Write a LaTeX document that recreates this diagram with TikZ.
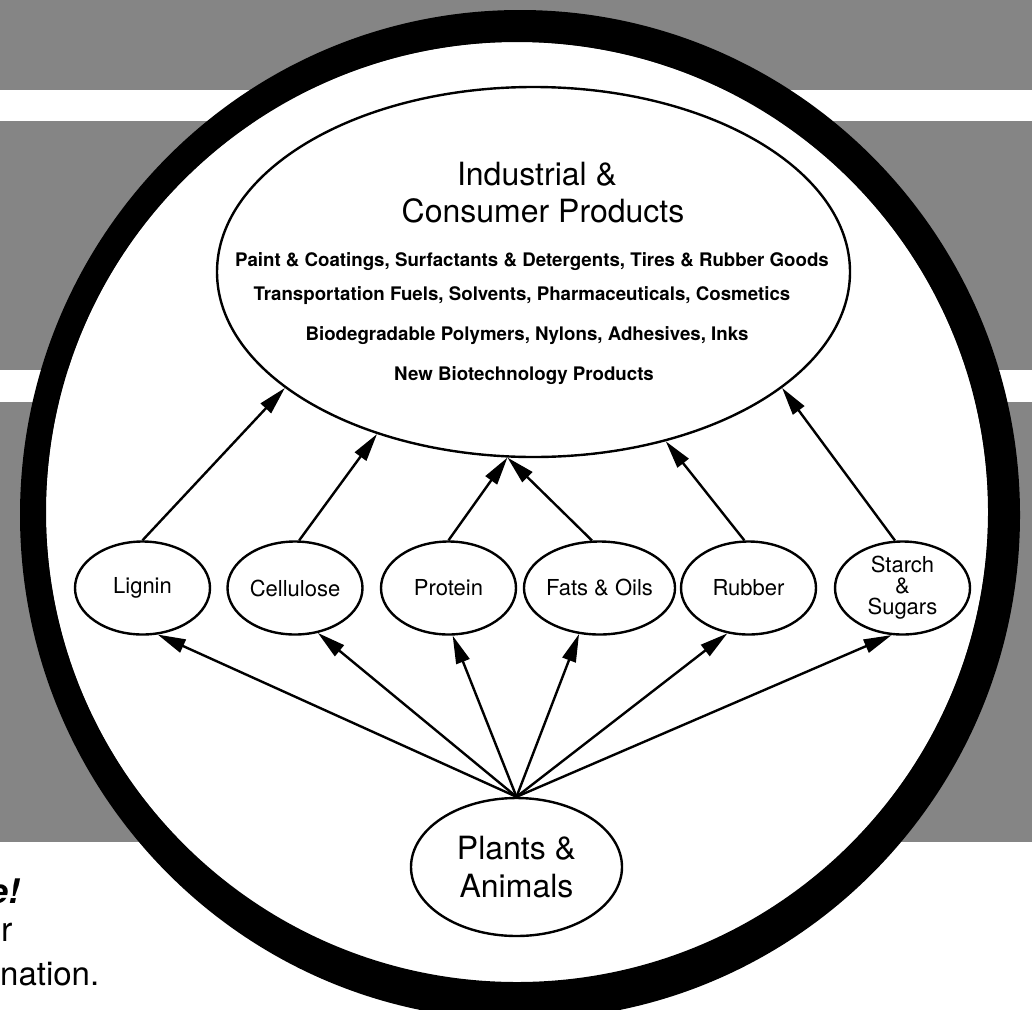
\documentclass[tikz,border=0pt]{standalone}
\usepackage{fontspec}
\setmainfont{TeX Gyre Heros}
\usetikzlibrary{arrows.meta,shapes.geometric}

\begin{document}
\begin{tikzpicture}[
        x=1pt,
        y=-1pt,
        myoval/.style={
            ellipse,
            draw,
            fill=white,
            line width=2.4pt,
            inner sep=0pt,
            minimum width=135pt,
            minimum height=93pt,
            font=\fontsize{22}{21}\selectfont,
            align=center
          },
        mytext/.style={
            anchor=base,
            inner sep=0pt,
            font=\fontsize{32}{36}\selectfont
          },
        mylist/.style={
            anchor=base,
            inner sep=0pt,
            font=\fontsize{18.7}{20}\selectfont\bfseries
          },
        myarrow/.style={
            line width=2.4pt,
            -{Triangle[length=28pt,width=14pt]}
          }]
        % Define colors
        \definecolor{bandgray}{gray}{0.52}

        % Page frame
        \useasboundingbox (0,0) rectangle (1032,1009);
        \clip (0,0) rectangle (1032,1009);

        % Draw background bands
        \fill[bandgray] (0,0) rectangle (1032,90);
        \fill[bandgray] (0,121) rectangle (1032,370);
        \fill[bandgray] (0,402) rectangle (1032,842);

        % Text left of the ring
        \node[anchor=base east, inner sep=0pt, font=\fontsize{34}{40}\selectfont\bfseries\itshape] (sideA) at (20,903) {e!};
        \node[anchor=base east, inner sep=0pt, font=\fontsize{34}{40}\selectfont] (sideB) at (13,941) {or};
        \node[anchor=base west, inner sep=0pt, font=\fontsize{33}{40}\selectfont] (sideC) at (0,985) {nation.};

        % Draw the ring
        \fill[white] (517,512) ellipse [x radius=471, y radius=470];
        \fill[even odd rule] (520,515) ellipse [x radius=500, y radius=505]
            (517,512) ellipse [x radius=471, y radius=470];

        % Products
        \node[myoval, minimum width=633pt, minimum height=370pt] (prod) at (533.5,272) {};
        \node[mytext] (titleA) at (537,185) {Industrial \&};
        \node[mytext] (titleB) at (543,222) {Consumer Products};
        \node[mylist] (listA) at (532,266) {Paint \& Coatings, Surfactants \& Detergents, Tires \& Rubber Goods};
        \node[mylist] (listB) at (522,300) {Transportation Fuels, Solvents, Pharmaceuticals, Cosmetics};
        \node[mylist] (listC) at (527,340) {Biodegradable Polymers, Nylons, Adhesives, Inks};
        \node[mylist] (listD) at (524,380) {New Biotechnology Products};

        % Raw materials
        \node[myoval] (lignin) at (142.5,588) {Lignin};
        \node[myoval] (cellulose) at (295,588) {Cellulose};
        \node[myoval] (protein) at (448.5,588) {Protein};
        \node[myoval] (fats) at (599.5,588) {Fats \& Oils};
        \node[myoval] (rubber) at (748.5,588) {Rubber};
        \node[myoval] (starch) at (902.5,588) {Starch\\\&\\Sugars};

        % Sources
        \node[myoval, minimum width=211pt, minimum height=138pt, font=\fontsize{32}{38}\selectfont] (plants) at (516.5,867) {Plants \&\\Animals};

        % Arrows up to products
        \draw[myarrow] (lignin.90) -- (prod.205);
        \draw[myarrow] (cellulose.85) -- (prod.226);
        \draw[myarrow] (protein.90) -- (prod.262);
        \draw[myarrow] (fats.99) -- (prod.262);
        \draw[myarrow] (rubber.95) -- (prod.308);
        \draw[myarrow] (starch.99) -- (prod.335);

        % Arrows from plants
        \draw[myarrow] (plants.north) -- (lignin.288);
        \draw[myarrow] (plants.north) -- (cellulose.297);
        \draw[myarrow] (plants.north) -- (protein.275);
        \draw[myarrow] (plants.north) -- (fats.246);
        \draw[myarrow] (plants.north) -- (rubber.245);
        \draw[myarrow] (plants.north) -- (starch.257);
    \end{tikzpicture}
\end{document}
